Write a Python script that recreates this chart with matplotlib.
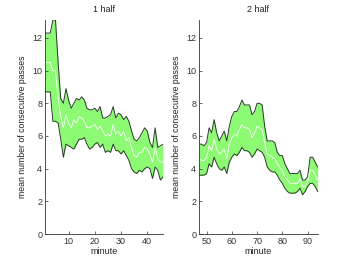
import numpy as np
import matplotlib
matplotlib.use("Agg")
import matplotlib.pyplot as plt

plt.rcParams['font.family'] = ['Liberation Sans', 'DejaVu Sans']

# First half
min1 = list(range(1, 47))
upper1 = [12.3, 12.3, 12.3, 13.1, 13.1, 10.5, 8.3, 8.0, 8.9, 8.2,
          7.7, 8.0, 8.3, 8.2, 8.4, 8.2, 7.7, 7.6, 7.6, 7.7,
          7.5, 7.8, 7.1, 7.1, 7.2, 7.3, 7.8, 7.1, 7.4, 7.3,
          7.0, 7.2, 6.9, 6.3, 5.8, 5.7, 5.9, 6.2, 6.5, 6.3,
          5.6, 5.3, 6.5, 5.3, 5.4, 5.5]
mean1 = [10.5, 10.5, 10.5, 10.0, 10.0, 8.3, 7.2, 6.5, 7.3, 6.8,
         6.5, 7.0, 6.8, 7.2, 7.1, 6.9, 6.5, 6.5, 6.6, 6.7,
         6.4, 6.6, 6.3, 6.0, 6.1, 6.0, 6.7, 6.1, 6.3, 6.0,
         6.3, 5.7, 5.9, 5.3, 4.8, 4.7, 5.0, 5.0, 5.3, 5.2,
         4.9, 4.4, 5.3, 4.6, 4.4, 4.4]
lower1 = [8.7, 8.7, 8.7, 6.9, 6.9, 6.8, 5.8, 4.7, 5.5, 5.4,
          5.3, 5.2, 5.5, 5.8, 5.8, 5.9, 5.5, 5.2, 5.3, 5.5,
          5.6, 5.3, 5.5, 5.0, 5.1, 5.0, 5.5, 5.1, 5.1, 4.9,
          5.1, 4.8, 4.5, 4.0, 3.8, 3.7, 3.9, 3.8, 4.0, 4.1,
          4.0, 3.4, 4.1, 3.9, 3.3, 3.5]

# Second half
min2 = list(range(47, 95))
upper2 = [5.5, 5.5, 5.4, 5.6, 6.5, 6.2, 7.0, 6.2, 5.7, 6.0,
          6.3, 5.7, 6.6, 7.2, 7.5, 7.5, 7.8, 8.2, 7.9, 7.9,
          7.9, 7.3, 7.5, 8.0, 8.0, 7.9, 6.6, 5.7, 5.7, 5.7,
          5.6, 5.0, 4.8, 4.8, 4.3, 4.0, 3.7, 3.7, 3.7, 3.7,
          3.9, 3.3, 3.3, 3.5, 4.7, 4.7, 4.4, 4.1]
mean2 = [4.6, 4.5, 4.5, 4.7, 5.4, 5.1, 5.8, 5.2, 4.9, 5.0,
         5.2, 4.6, 5.5, 5.9, 6.1, 6.0, 6.4, 6.7, 6.5, 6.5,
         6.4, 5.9, 6.2, 6.6, 6.5, 6.4, 5.6, 4.9, 4.8, 4.7,
         4.6, 4.3, 4.1, 3.9, 3.5, 3.3, 3.1, 3.1, 3.1, 3.1,
         3.4, 2.9, 2.9, 3.2, 3.9, 3.9, 3.6, 3.3]
lower2 = [3.6, 3.6, 3.6, 3.7, 4.3, 4.1, 4.7, 4.3, 4.0, 3.9,
          4.1, 3.7, 4.4, 4.7, 4.9, 4.8, 5.0, 5.3, 5.1, 5.1,
          5.0, 4.7, 4.9, 5.2, 5.1, 5.0, 4.7, 4.1, 3.9, 3.8,
          3.8, 3.6, 3.3, 3.1, 2.8, 2.6, 2.5, 2.5, 2.5, 2.6,
          2.8, 2.4, 2.6, 2.9, 3.1, 3.1, 2.9, 2.6]

titles = ["1 half", "2 half"]
yticks = [0, 2, 4, 6, 8, 10, 12]
xticks1 = [10, 20, 30, 40]
xticks2 = [50, 60, 70, 80, 90]

fig = plt.figure(figsize=(3.5, 2.64), dpi=100)
ax1 = fig.add_axes([45/350, 30/264, 118/350, 214/264])
ax2 = fig.add_axes([199/350, 30/264, 118.7/350, 214/264])

fill_col = '#8cfa72'
for ax, m, up, mn, lo, title, xt in [
        (ax1, min1, upper1, mean1, lower1, titles[0], xticks1),
        (ax2, min2, upper2, mean2, lower2, titles[1], xticks2)]:
    ax.fill_between(m, lo, up, color=fill_col, linewidth=0)
    ax.plot(m, up, color='#2a3a2a', linewidth=0.7)
    ax.plot(m, lo, color='#2a3a2a', linewidth=0.7)
    ax.plot(m, mn, color='white', linewidth=0.6)
    ax.set_xlim(m[0], m[-1])
    ax.set_ylim(0, 13.1)
    ax.set_yticks(yticks)
    ax.set_xticks(xt)
    ax.tick_params(direction='in', length=2.5, width=0.5, labelsize=6.5, pad=2,
                   colors='#333333')
    ax.spines['top'].set_visible(False)
    ax.spines['right'].set_visible(False)
    for s in ['left', 'bottom']:
        ax.spines[s].set_linewidth(0.6)
        ax.spines[s].set_color('#333333')
    ax.set_title(title, fontsize=6.5, pad=6, color='#222222')
    ax.set_xlabel('minute', fontsize=6.5, labelpad=1, color='#222222')
    ax.set_ylabel('mean number of consecutive passes', fontsize=6.3, labelpad=4,
                  color='#222222')

fig.savefig('out.png', dpi=100)
